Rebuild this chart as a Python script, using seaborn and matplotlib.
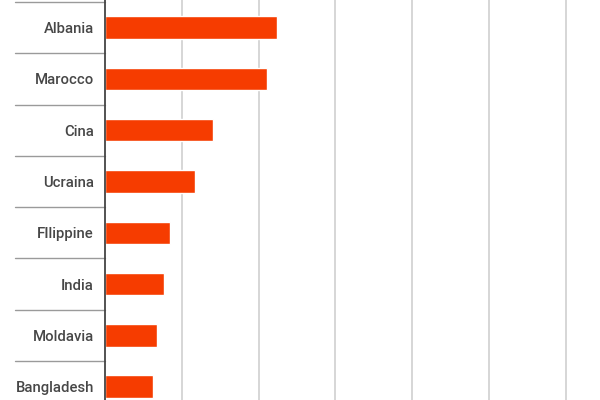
import matplotlib
matplotlib.use("Agg")
import matplotlib.pyplot as plt
import matplotlib.transforms as mtransforms
import seaborn as sns
import pandas as pd

# residenti stranieri per paese
paesi = ["Albania", "Marocco", "Cina", "Ucraina", "FIlippine", "India", "Moldavia", "Bangladesh"]
residenti = [448000, 422000, 282000, 234000, 169000, 154000, 136000, 125000]
griglia_x = [200000, 400000, 600000, 800000, 1000000, 1200000]

df = pd.DataFrame({"paese": paesi, "residenti": residenti})

sns.set_theme(style="white")
plt.rcParams["font.family"] = ["Roboto", "DejaVu Sans"]

fig = plt.figure(figsize=(6, 4), dpi=100)
ax = fig.add_axes([0.175, 0.0, 0.80, 1.0])

sns.barplot(data=df, x="residenti", y="paese", orient="h", color="#F63C00",
            saturation=1, width=0.44, ax=ax, zorder=3)

ax.set_xlim(0, 1250000)
ax.set_ylim(7.259, -0.538)

for gx in griglia_x:
    ax.axvline(gx, color="#cccccc", linewidth=1.1, zorder=1)

for s in ["top", "right", "bottom"]:
    ax.spines[s].set_visible(False)
ax.spines["left"].set_color("#444444")
ax.spines["left"].set_linewidth(1.3)
ax.spines["left"].set_zorder(4)

ax.set_xticks(griglia_x)
ax.set_xticklabels([])
ax.tick_params(axis="x", length=0)
ax.tick_params(axis="y", length=0, pad=8, labelsize=10.7, labelcolor="#474747")
for lab in ax.get_yticklabels():
    lab.set_fontweight("medium")
ax.set_xlabel("")
ax.set_ylabel("")

# linee di separazione tra le categorie, a sinistra dell'asse
trans = mtransforms.blended_transform_factory(fig.transFigure, ax.transData)
for k in range(len(paesi)):
    yb = k - 0.5
    ax.plot([15 / 600, 105 / 600], [yb, yb], transform=trans, color="#9a9a9a",
            linewidth=1.0, clip_on=False)

fig.savefig("out.png", dpi=100)
